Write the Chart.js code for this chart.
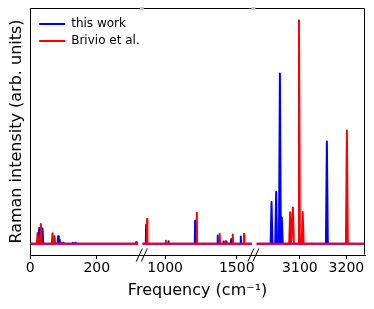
<!DOCTYPE html>
<html>
<head>
<meta charset="utf-8">
<script src="https://cdn.jsdelivr.net/npm/chart.js@4.4.0/dist/chart.umd.min.js"></script>
<style>
  body { margin: 0; background: #fff; }
</style>
</head>
<body>
<canvas id="myChart" width="374" height="309"></canvas>
<script>
// series names / colours
var seriesNames = ['this work', 'Brivio et al.'];
var seriesColors = ['#0000ff', '#ff0000'];

// frequency ranges of each panel of the broken axis (cm-1)
var panelRanges = [[0, 335], [837, 1616], [3000, 3240]];
var panelTicks = [[0, 200], [1000, 1500], [3100, 3200]];
// part of the spectrum actually plotted in each panel
var lineExtents = [[0, 323], [842, 1605], [3007, 3240]];

// this work: peak positions (cm-1) and intensities
var thisWorkFreq = [27, 37, 84, 88, 100, 128, 135, 318, 867, 1023, 1209, 1367, 1407, 1426, 1461, 1528, 3039, 3049, 3057, 3061, 3158];
var thisWorkInt = [0.07, 0.068, 0.034, 0.019, 0.005, 0.005, 0.004, 0.007, 0.085, 0.011, 0.103, 0.037, 0.01, 0.01, 0.02, 0.032, 0.186, 0.232, 0.758, 0.117, 0.455];

// Brivio et al.: peak positions (cm-1) and intensities
var brivioFreq = [22, 32, 67, 73, 93, 320, 874, 1005, 1221, 1381, 1419, 1472, 1551, 3079, 3085, 3098, 3106, 3201];
var brivioInt = [0.048, 0.088, 0.047, 0.034, 0.004, 0.005, 0.11, 0.014, 0.138, 0.044, 0.01, 0.041, 0.044, 0.14, 0.161, 0.995, 0.141, 0.505];

var halfWidth = 2;

// turn a list of peaks into a line with narrow spikes
function spikes(freq, ints, lo, hi) {
  var pts = [{x: lo, y: 0}];
  for (var i = 0; i < freq.length; i++) {
    if (freq[i] < lo || freq[i] > hi) continue;
    pts.push({x: freq[i] - halfWidth, y: 0});
    pts.push({x: freq[i], y: ints[i]});
    pts.push({x: freq[i] + halfWidth, y: 0});
  }
  pts.push({x: hi, y: 0});
  return pts;
}

Chart.defaults.font.family = 'DejaVu Sans';
Chart.defaults.color = '#000';

var allFreq = [thisWorkFreq, brivioFreq];
var allInt = [thisWorkInt, brivioInt];
var datasets = [];
for (var s = 0; s < 2; s++) {
  for (var p = 0; p < 3; p++) {
    datasets.push({
      label: seriesNames[s],
      data: spikes(allFreq[s], allInt[s], lineExtents[p][0], lineExtents[p][1]),
      xAxisID: 'x' + p,
      yAxisID: 'y',
      borderColor: seriesColors[s],
      backgroundColor: seriesColors[s],
      borderWidth: 2,
      borderJoinStyle: 'round',
      pointRadius: 0,
      tension: 0,
      fill: false,
      order: s === 1 ? 0 : 1
    });
  }
}

function noPadding(axis) {
  axis.paddingLeft = 0;
  axis.paddingRight = 0;
}

var scales = {
  y: {
    position: 'left',
    min: -0.05,
    max: 1.05,
    ticks: {display: false},
    grid: {display: false, drawTicks: false},
    border: {display: true, color: '#000', width: 1},
    title: {display: true, text: 'Raman intensity (arb. units)', font: {size: 16}, padding: {top: 4, bottom: 4}}
  }
};
panelRanges.forEach(function (r, i) {
  scales['x' + i] = {
    type: 'linear',
    position: 'bottom',
    stack: 'freq',
    stackWeight: 1,
    min: r[0],
    max: r[1],
    afterBuildTicks: function (axis) {
      axis.ticks = panelTicks[i].map(function (v) { return {value: v}; });
    },
    afterFit: noPadding,
    ticks: {font: {size: 14}, padding: 1, maxRotation: 0, autoSkip: false, callback: function (v) { return String(v); }},
    grid: {display: true, drawOnChartArea: false, drawTicks: true, tickLength: 4, tickColor: '#000'},
    border: {display: true, color: '#000', width: 1}
  };
});
// full-width axis carrying only the title
scales.xt = {
  type: 'linear',
  position: 'bottom',
  weight: 1,
  min: 0,
  max: 1,
  afterFit: noPadding,
  ticks: {display: false},
  grid: {display: false, drawTicks: false},
  border: {display: false},
  title: {display: true, text: 'Frequency (cm⁻¹)', font: {size: 16}, padding: {top: 3, bottom: 4}}
};

// frame, // break marks, legend placement inside the frame
var brokenAxis = {
  id: 'brokenAxis',
  beforeDraw: function (chart) {
    chart.legend.left = chart.chartArea.left + 4;
    chart.legend.top = chart.chartArea.top + 5;
  },
  afterDraw: function (chart) {
    var ctx = chart.ctx, a = chart.chartArea;
    ctx.save();
    ctx.strokeStyle = '#000';
    ctx.lineWidth = 1;
    var l = Math.round(a.left) + 0.5, t = Math.round(a.top) + 0.5;
    var r = Math.round(a.right) - 0.5, b = Math.round(a.bottom) - 0.5;
    ctx.beginPath();
    ctx.moveTo(l, t); ctx.lineTo(r, t); ctx.lineTo(r, b);
    ctx.stroke();
    [chart.scales.x0.right, chart.scales.x1.right].forEach(function (bx) {
      ctx.fillStyle = '#c8c8c8';
      ctx.fillRect(bx - 2, t - 1.5, 4, 3);
      ctx.strokeStyle = '#000';
      ctx.beginPath();
      [-2.5, 2.5].forEach(function (dx) {
        ctx.moveTo(bx + dx - 3, b + 7);
        ctx.lineTo(bx + dx + 3, b - 6);
      });
      ctx.stroke();
    });
    ctx.restore();
  }
};

var ctx = document.getElementById('myChart');
var myChart = new Chart(ctx, {
  type: 'line',
  data: {datasets: datasets},
  options: {
    responsive: false,
    animation: false,
    layout: {padding: {left: 3, right: 9, top: 8, bottom: 5}},
    scales: scales,
    plugins: {
      legend: {
        position: 'chartArea',
        align: 'start',
        onClick: null,
        labels: {
          font: {size: 12},
          usePointStyle: true,
          pointStyleWidth: 26,
          padding: 5,
          generateLabels: function () {
            return seriesNames.map(function (n, k) {
              return {text: n, strokeStyle: seriesColors[k], fillStyle: seriesColors[k],
                lineWidth: 2, pointStyle: 'line', hidden: false, datasetIndex: k * 3};
            });
          }
        }
      },
      tooltip: {enabled: false}
    }
  },
  plugins: [brokenAxis]
});
</script>
</body>
</html>
